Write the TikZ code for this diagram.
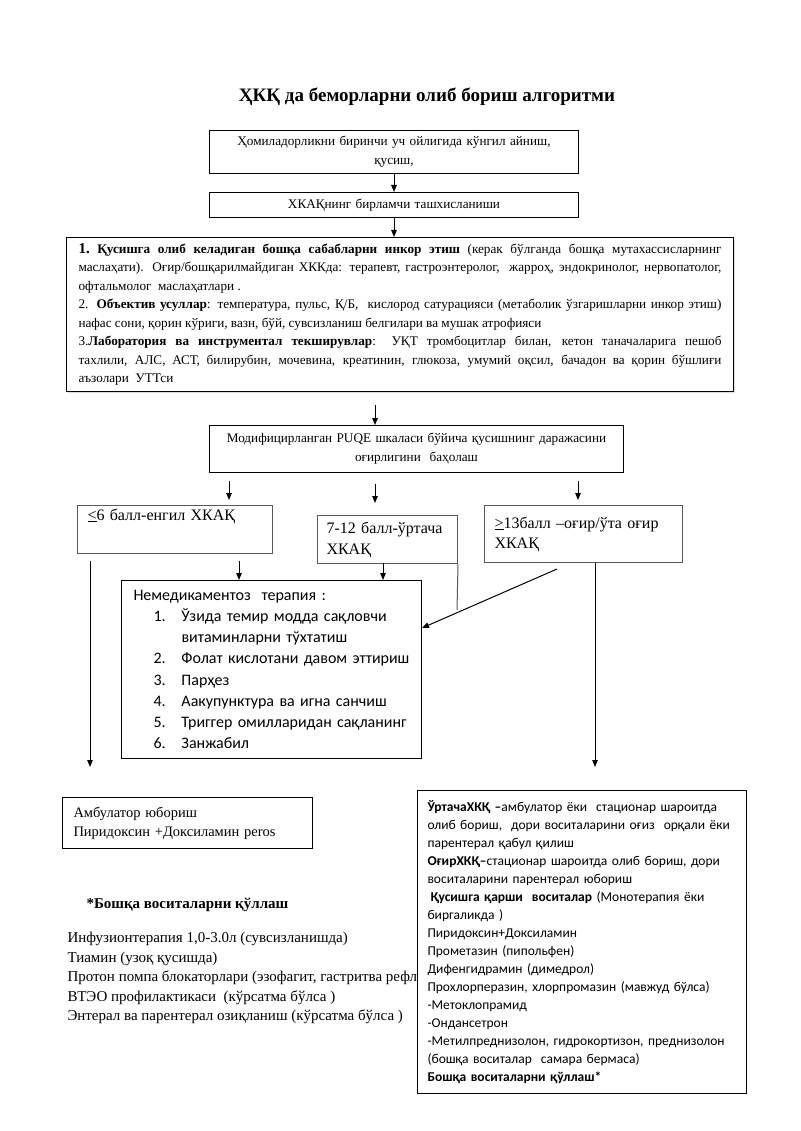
\documentclass[tikz,border=0pt]{standalone}
\usepackage{fontspec}
\setmainfont{Liberation Serif}
\newfontfamily\calibri{Carlito}
\usetikzlibrary{arrows.meta,shadows}

\newcommand{\nitem}[1]{\hspace*{22pt}\makebox[28pt][l]{#1}}

\tikzset{
  box/.style={draw, line width=1pt, inner ysep=0pt, anchor=north west},
  greybox/.style={box, draw=black!65, align=left, font=\fontsize{16}{21}\selectfont},
}

\begin{document}
\begin{tikzpicture}[x=1pt, y=-1pt, >={Triangle[length=7pt,width=5.5pt]}, line width=1pt]
      \useasboundingbox (0,0) rectangle (800,1131);

      \node [font=\bfseries\fontsize{19}{23}\selectfont] (title) at (427,97) {ҲКҚ да беморларни олиб бориш алгоритми};

      \node [box, minimum width=369pt, minimum height=43pt, inner xsep=8pt, text width=353pt, align=center,
             font=\fontsize{13.2}{19}\selectfont] (vomit) at (209,130)
            {Ҳомиладорликни биринчи уч ойлигида кўнгил айниш,\\ қусиш,};
      \node [box, minimum width=369pt, minimum height=25pt, inner xsep=8pt, text width=353pt, align=center,
             font=\fontsize{13.2}{19}\selectfont] (diag) at (209,192)
            {ХКАҚнинг бирламчи ташхисланиши};

      \node [box, fill=white, drop shadow={shadow xshift=1.5pt, shadow yshift=-1.5pt, fill=black!25},
             minimum width=667pt, minimum height=154pt, inner xsep=12pt, text width=643pt, align=justify,
             font=\fontsize{13.2}{18.5}\selectfont] (exam) at (66,237)
            {\textbf{{\fontsize{15}{18.5}\selectfont 1.}\ Қусишга олиб келадиган бошқа сабабларни инкор этиш} (керак бўлганда бошқа мутахассисларнинг\linebreak
             маслаҳати). Оғир/бошқарилмайдиган ХККда: терапевт, гастроэнтеролог,\ \ жарроҳ, эндокринолог, нервопатолог,\linebreak
             офтальмолог\ \ маслаҳатлари .\\
             2. \textbf{Объектив усуллар}: температура, пульс, Қ/Б,\ \ кислород сатурацияси (метаболик ўзгаришларни инкор этиш)\linebreak
             нафас сони, қорин кўриги, вазн, бўй, сувсизланиш белгилари ва мушак атрофияси\\
             3.\textbf{Лаборатория ва инструментал текширувлар}: УҚТ тромбоцитлар билан, кетон таначаларига пешоб\linebreak
             тахлили, АЛС, АСТ, билирубин, мочевина, креатинин, глюкоза, умумий оқсил, бачадон ва қорин бўшлиғи\linebreak
             аъзолари\ \ УТТси};

      \node [box, minimum width=414pt, minimum height=47pt, inner xsep=6pt, text width=402pt, align=center,
             font=\fontsize{13.2}{19}\selectfont] (puqe) at (209,425)
            {Модифицирланган PUQE шкаласи бўйича қусишнинг даражасини\\ оғирлигини\ \ баҳолаш};

      \node [greybox, minimum width=195pt, minimum height=48pt, inner xsep=10pt, text width=175pt,
             font=\fontsize{16}{23}\selectfont] (mild) at (77,505)
            {\underline{<}6 балл-енгил ХКАҚ\\ \strut};
      \node [greybox, minimum width=140pt, minimum height=48pt, inner xsep=9pt, text width=122pt] (mid) at (317,515)
            {7-12 балл-ўртача\\ ХКАҚ};
      \node [greybox, minimum width=198pt, minimum height=57pt, inner xsep=10pt, text width=178pt,
             font=\fontsize{16}{20}\selectfont] (sev) at (484,505)
            {\underline{>}13балл –оғир/ўта оғир\\ ХКАҚ};

      \node [box, minimum width=300pt, minimum height=178pt, inner xsep=10pt, text width=280pt, align=left,
             font=\calibri\fontsize{16}{21.2}\selectfont] (nonmed) at (121,580)
            {\hspace*{2pt}Немедикаментоз\ \ терапия :\\
             \nitem{1.}Ўзида темир модда сақловчи\\
             \nitem{}витаминларни тўхтатиш\\
             \nitem{2.}Фолат кислотани давом эттириш\\
             \nitem{3.}Парҳез\\
             \nitem{4.}Аакупунктура ва игна санчиш\\
             \nitem{5.}Триггер омилларидан сақланинг\\
             \nitem{6.}Занжабил};

      \node [box, minimum width=250pt, minimum height=51pt, inner xsep=11pt, text width=228pt, align=left,
             font=\fontsize{14.5}{19}\selectfont] (outpat) at (62,797)
            {Амбулатор юбориш\\ Пиридоксин +Доксиламин peros};

      \node [anchor=base west, inner sep=0pt, font=\bfseries\fontsize{15}{19}\selectfont] (other) at (86,908)
            {*Бошқа воситаларни қўллаш};
      \node [anchor=north west, inner sep=0pt, align=left, font=\fontsize{15}{19.5}\selectfont] (otherlist) at (67,932)
            {Инфузионтерапия 1,0-3.0л (сувсизланишда)\\
             Тиамин (узоқ қусишда)\\
             Протон помпа блокаторлари (эзофагит, гастритва рефл\\
             ВТЭО профилактикаси\ \ (кўрсатма бўлса )\\
             Энтерал ва парентерал озиқланиш (кўрсатма бўлса )};

      \node [box, fill=white, minimum width=329pt, minimum height=303pt, inner xsep=10pt, text width=309pt, align=left,
             font=\calibri\fontsize{13.5}{18}\selectfont] (drugs) at (417,790)
            {\textbf{ЎртачаХКҚ –}амбулатор ёки\ \ стационар шароитда\\
             олиб бориш,\ \ дори воситаларини оғиз\ \ орқали ёки\\
             парентерал қабул қилиш\\
             \textbf{ОғирХКҚ–}стационар шароитда олиб бориш, дори\\
             воситаларини парентерал юбориш\\
             \hspace*{3pt}\textbf{Қусишга қарши\ \ воситалар} (Монотерапия ёки\\
             биргаликда )\\
             Пиридоксин+Доксиламин\\
             Прометазин (пипольфен)\\
             Дифенгидрамин (димедрол)\\
             Прохлорперазин, хлорпромазин (мавжуд бўлса)\\
             -Метоклопрамид\\
             -Ондансетрон\\
             -Метилпреднизолон, гидрокортизон, преднизолон\\
             (бошқа воситалар\ \ самара бермаса)\\
             \textbf{Бошқа воситаларни қўллаш*}};

      \coordinate (c1) at (375,405);
      \coordinate (p1) at (229,481);
      \coordinate (q1) at (229,500);
      \coordinate (p2) at (375,484);
      \coordinate (q2) at (375,503);
      \coordinate (p3) at (578,481);
      \coordinate (q3) at (578,500);
      \coordinate (l1) at (90,561);
      \coordinate (l2) at (90,767);
      \coordinate (n1) at (239,561);
      \coordinate (n2) at (383,563);
      \coordinate (m1) at (457,610);
      \coordinate (d1) at (557,569);
      \coordinate (d2) at (422,628);
      \coordinate (r1) at (595,563);
      \coordinate (r2) at (595,767);

      \draw [->] (vomit) -- (diag);
      \draw [->] (diag.south) -- (diag.south |- exam.north);
      \draw [->] (c1) -- (c1 |- puqe.north);
      \draw [->] (p1) -- (q1);
      \draw [->] (p2) -- (q2);
      \draw [->] (p3) -- (q3);
      \draw [->] (l1) -- (l2);
      \draw [->] (n1) -- (n1 |- nonmed.north);
      \draw [->] (n2) -- (n2 |- nonmed.north);
      \draw [draw=black!65] (mid.south east) -- (m1);
      \draw [->] (d1) -- (d2);
      \draw [->] (r1) -- (r2);
    \end{tikzpicture}
\end{document}
